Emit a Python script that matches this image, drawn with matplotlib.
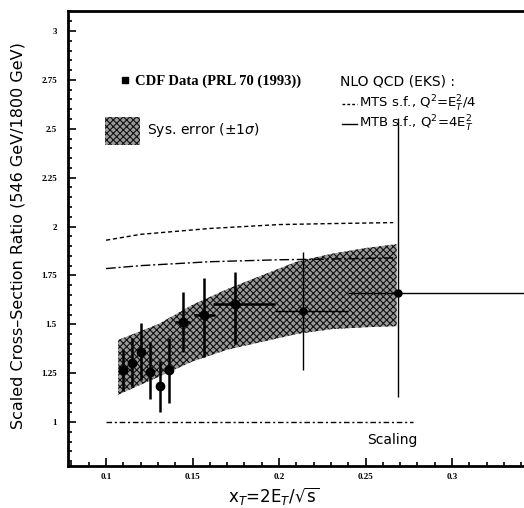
import matplotlib
matplotlib.use("Agg")
import matplotlib.pyplot as plt
from matplotlib.ticker import MultipleLocator, FuncFormatter
from matplotlib.patches import Rectangle
from matplotlib.lines import Line2D

# CDF ratio points
xt = [0.1098, 0.1149, 0.1200, 0.1254, 0.1312, 0.1364, 0.1443, 0.1568, 0.1746, 0.2141, 0.2690]
ratio = [1.265, 1.302, 1.359, 1.257, 1.184, 1.265, 1.512, 1.546, 1.606, 1.568, 1.660]
ratio_hi = [1.367, 1.43, 1.505, 1.41, 1.31, 1.43, 1.665, 1.735, 1.767, 1.869, 2.556]
ratio_lo = [1.16, 1.18, 1.214, 1.12, 1.05, 1.10, 1.36, 1.333, 1.40, 1.265, 1.128]
bin_lo = [0.1098, 0.1149, 0.1200, 0.1254, 0.1312, 0.1364, 0.1399, 0.1509, 0.1619, 0.1977, 0.240]
bin_hi = [0.1098, 0.1149, 0.1200, 0.1254, 0.1312, 0.1364, 0.1486, 0.1630, 0.1977, 0.240, 0.3416]

# systematic error band
band_x = [0.107, 0.13, 0.15, 0.17, 0.19, 0.21, 0.23, 0.25, 0.268]
band_lo = [1.14, 1.23, 1.31, 1.37, 1.41, 1.45, 1.475, 1.485, 1.49]
band_hi = [1.42, 1.50, 1.60, 1.68, 1.75, 1.82, 1.86, 1.89, 1.91]

# NLO QCD curves
mts_x = [0.1, 0.11, 0.12, 0.14, 0.16, 0.18, 0.2, 0.23, 0.266]
mts_y = [1.93, 1.945, 1.96, 1.975, 1.99, 2.0, 2.01, 2.015, 2.02]
mtb_x = [0.1, 0.12, 0.14, 0.16, 0.2, 0.24, 0.268]
mtb_y = [1.785, 1.80, 1.81, 1.82, 1.83, 1.835, 1.84]
scal_x = [0.1, 0.2775]
scal_y = [1.0, 1.0]

plt.rcParams['mathtext.fontset'] = 'dejavusans'
plt.rcParams['hatch.linewidth'] = 0.8

W, H = 524, 508
def fx(px):
    return px / W
def fy(py):
    return 1 - py / H

fig = plt.figure(figsize=(5.24, 5.08), dpi=100)
ax = fig.add_axes([fx(68), fy(466), (W - 68) / W, (466 - 11) / H])

ax.fill_between(band_x, band_lo, band_hi, facecolor='#999999', edgecolor='#111111',
                hatch='xxxxx', linewidth=0, zorder=1)
ax.plot(mts_x, mts_y, color='k', lw=1.0, dashes=(3, 2), zorder=2)
ax.plot(mtb_x, mtb_y, color='k', lw=1.0, dashes=(7, 2, 1.5, 2), zorder=2)
ax.plot(scal_x, scal_y, color='k', lw=1.0, dashes=(4, 2, 1.5, 2), zorder=2)

yerr = [[r - l for r, l in zip(ratio, ratio_lo)], [h - r for r, h in zip(ratio, ratio_hi)]]
xerr = [[x - l for x, l in zip(xt, bin_lo)], [h - x for x, h in zip(xt, bin_hi)]]
n = 9
ax.errorbar(xt[:n], ratio[:n], yerr=[yerr[0][:n], yerr[1][:n]], xerr=[xerr[0][:n], xerr[1][:n]],
            fmt='o', color='k', ms=6, elinewidth=1.8, capsize=0, zorder=3)
ax.errorbar(xt[n:], ratio[n:], yerr=[yerr[0][n:], yerr[1][n:]], xerr=[xerr[0][n:], xerr[1][n:]],
            fmt='o', color='k', ms=5, elinewidth=1.0, capsize=0, zorder=3)

ax.set_xlim(0.078, 0.3416)
ax.set_ylim(0.7755, 3.102)
ax.xaxis.set_major_locator(MultipleLocator(0.05))
ax.xaxis.set_minor_locator(MultipleLocator(0.01))
ax.yaxis.set_major_locator(MultipleLocator(0.25))
ax.yaxis.set_minor_locator(MultipleLocator(0.05))
fmt = FuncFormatter(lambda v, p: '%g' % round(v, 3))
ax.xaxis.set_major_formatter(fmt)
ax.yaxis.set_major_formatter(fmt)
ax.tick_params(which='both', direction='in', width=1.2, top=False, right=False)
ax.tick_params(which='major', length=6)
ax.tick_params(which='minor', length=3)
for lab in ax.get_xticklabels() + ax.get_yticklabels():
    lab.set_fontfamily('Liberation Serif')
    lab.set_fontweight('bold')
    lab.set_fontsize(6.5)
ax.tick_params(axis='x', pad=5)
ax.tick_params(axis='y', pad=8)
for s in ['left', 'bottom', 'top']:
    ax.spines[s].set_linewidth(2)
ax.spines['right'].set_visible(False)

# legend / annotations
fig.add_artist(Line2D([fx(125)], [fy(80)], marker='s', ms=5, color='k'))
fig.text(fx(135), fy(81), 'CDF Data (PRL 70 (1993))', family='Liberation Serif',
         weight='bold', fontsize=10.5, va='center')
fig.text(fx(340), fy(82), 'NLO QCD (EKS) :', fontsize=10, va='center')
fig.add_artist(Line2D([fx(342), fx(357)], [fy(104)] * 2, color='k', lw=1, dashes=(2, 1.5)))
fig.text(fx(359), fy(104), r'MTS s.f., Q$^2$=E$_T^2$/4', fontsize=9.5, va='center')
fig.add_artist(Line2D([fx(342), fx(357)], [fy(124)] * 2, color='k', lw=1))
fig.text(fx(359), fy(124), r'MTB s.f., Q$^2$=4E$_T^2$', fontsize=9.5, va='center')
fig.add_artist(Rectangle((fx(105), fy(145)), 35 / W, 28 / H, transform=fig.transFigure,
                         facecolor='#999999', edgecolor='#111111', hatch='xxxxx', linewidth=0))
fig.text(fx(147), fy(130), r'Sys. error ($\pm$1$\sigma$)', fontsize=10, va='center')
fig.text(fx(367), fy(440), 'Scaling', fontsize=10, va='center')

fig.text(fx(18), fy(236), 'Scaled Cross\u2013Section Ratio (546 GeV/1800 GeV)',
         rotation=90, fontsize=11.5, ha='center', va='center')
fig.text(fx(274), fy(496), r'x$_T$=2E$_T$/$\sqrt{\mathregular{s}}$', fontsize=12,
         ha='center', va='center')

fig.savefig('out.png', dpi=100)
